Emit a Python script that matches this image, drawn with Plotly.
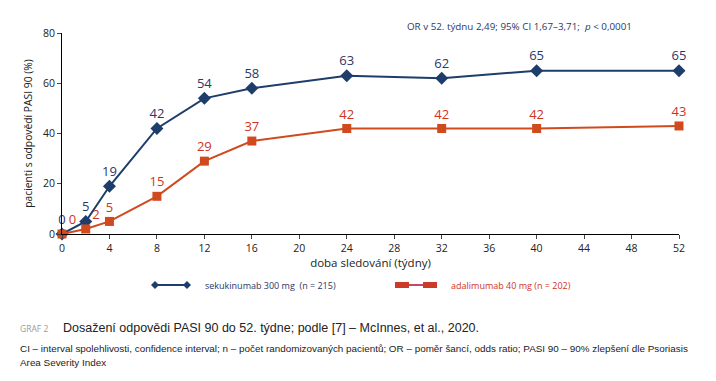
import plotly.graph_objects as go

weeks = [0, 2, 4, 8, 12, 16, 24, 32, 40, 52]
secukinumab = [0, 5, 19, 42, 54, 58, 63, 62, 65, 65]
adalimumab = [0, 2, 5, 15, 29, 37, 42, 42, 42, 43]
sec_name = "sekukinumab 300 mg  (n = 215)"
ada_name = "adalimumab 40 mg (n = 202)"
x_ticks = list(range(0, 53, 4))
y_ticks = [0, 20, 40, 60, 80]

BLUE = "#1d3d6b"
BLUE_TXT = "#2b3768"
RED = "#d04a1e"
RED_TXT = "#d0341c"
FONT = "Open Sans"

sec_pos = ["top center"] * len(weeks)
ada_pos = ["top right", "top right"] + ["top center"] * (len(weeks) - 2)

fig = go.Figure()
fig.add_trace(go.Scatter(
    x=weeks, y=secukinumab, mode="lines+markers+text", name=sec_name,
    line=dict(color=BLUE, width=2), marker=dict(symbol="diamond", size=10, color=BLUE),
    text=[str(v) for v in secukinumab], textposition=sec_pos,
    textfont=dict(color=BLUE_TXT, size=13, family=FONT), cliponaxis=False, showlegend=False))
fig.add_trace(go.Scatter(
    x=weeks, y=adalimumab, mode="lines+markers+text", name=ada_name,
    line=dict(color=RED, width=2), marker=dict(symbol="square", size=9, color=RED),
    text=[str(v) for v in adalimumab], textposition=ada_pos,
    textfont=dict(color=RED_TXT, size=13, family=FONT), cliponaxis=False, showlegend=False))

# page body has an 8px margin; work in screen pixels and subtract it
OFF = 8
W, H = 716 - OFF, 381 - OFF
L, R, T, B = 62 - OFF, 37, 33 - OFF, 147

def px(xp):
    return (xp - OFF - L) / (W - L - R)

def py(yp):
    return (H - B - (yp - OFF)) / (H - T - B)

shapes = []
ly = 285
shapes.append(dict(type="line", xref="paper", yref="paper", x0=px(155), x1=px(187), y0=py(ly), y1=py(ly),
                   line=dict(color=BLUE, width=2)))
for cx in (155, 187):
    shapes.append(dict(type="path", xref="paper", yref="paper",
                       path=f"M {px(cx-4)} {py(ly)} L {px(cx)} {py(ly-4)} L {px(cx+4)} {py(ly)} L {px(cx)} {py(ly+4)} Z",
                       fillcolor=BLUE, line=dict(width=0)))
shapes.append(dict(type="line", xref="paper", yref="paper", x0=px(402), x1=px(430), y0=py(ly), y1=py(ly),
                   line=dict(color="#c8466a", width=2)))
for cx in (402, 430):
    shapes.append(dict(type="rect", xref="paper", yref="paper", x0=px(cx-7), x1=px(cx+7), y0=py(ly-3), y1=py(ly+3),
                       fillcolor="#cc3a2a", line=dict(width=0)))

CAP = "Liberation Sans"
annotations = [
    dict(xref="paper", yref="paper", x=px(405), y=py(26), xanchor="left", yanchor="middle", showarrow=False,
         text="OR v 52. týdnu 2,49; 95% CI 1,67–3,71;  <i>p</i> < 0,0001",
         font=dict(size=9.8, color="#2b3768", family=FONT)),
    dict(xref="paper", yref="paper", x=px(203), y=py(ly), xanchor="left", yanchor="middle", showarrow=False,
         text=sec_name, font=dict(size=9, color="#2b3768", family=FONT)),
    dict(xref="paper", yref="paper", x=px(449), y=py(ly), xanchor="left", yanchor="middle", showarrow=False,
         text=ada_name, font=dict(size=9, color=RED_TXT, family=FONT)),
    dict(xref="paper", yref="paper", x=px(18), y=py(328), xanchor="left", yanchor="middle", showarrow=False,
         text="GRAF 2", font=dict(size=8.5, color="#9a9a9a", family=FONT)),
    dict(xref="paper", yref="paper", x=px(61), y=py(328), xanchor="left", yanchor="middle", showarrow=False,
         text="Dosažení odpovědi PASI 90 do 52. týdne; podle [7] – McInnes, et al., 2020.",
         font=dict(size=12.5, color="#222222", family=CAP)),
    dict(xref="paper", yref="paper", x=px(18), y=py(348), xanchor="left", yanchor="middle", showarrow=False,
         text="CI – interval spolehlivosti, confidence interval; n – počet randomizovaných pacientů; OR – poměr šancí, odds ratio; PASI 90 – 90% zlepšení dle Psoriasis",
         font=dict(size=9.9, color="#222222", family=CAP)),
    dict(xref="paper", yref="paper", x=px(18), y=py(362), xanchor="left", yanchor="middle", showarrow=False,
         text="Area Severity Index",
         font=dict(size=9.9, color="#222222", family=CAP)),
]

fig.update_layout(
    width=W, height=H, margin=dict(l=L, r=R, t=T, b=B, autoexpand=False),
    paper_bgcolor="white", plot_bgcolor="white",
    font=dict(family=FONT, color="#222222", size=11),
    shapes=shapes, annotations=annotations, showlegend=False,
    xaxis=dict(range=[0, 52], tickvals=x_ticks, showgrid=False, zeroline=False, automargin=False,
               showline=True, linecolor="#000", linewidth=1, ticks="outside", ticklen=4,
               tickfont=dict(size=10.5, color="#222"),
               title=dict(text="doba sledování (týdny)", font=dict(size=11.5, color="#222"), standoff=4)),
    yaxis=dict(range=[0, 80], tickvals=y_ticks, showgrid=False, zeroline=False, automargin=False,
               showline=True, linecolor="#000", linewidth=1, ticks="outside", ticklen=4,
               tickfont=dict(size=10.5, color="#222"),
               title=dict(text="pacienti s odpovědí PASI 90 (%)", font=dict(size=10.3, color="#222"), standoff=8)),
)

fig.write_html("out.html")
